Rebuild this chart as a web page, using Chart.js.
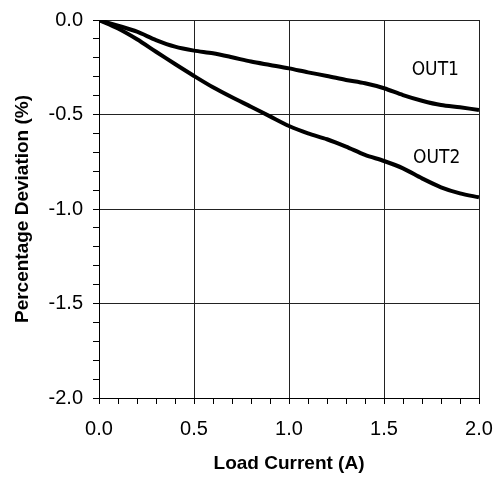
<!DOCTYPE html>
<html>
<head>
<meta charset="utf-8">
<script src="https://cdn.jsdelivr.net/npm/chart.js@4"></script>
<style>
  body { margin: 0; background: #fff; }
</style>
</head>
<body>
<canvas id="chart" width="502" height="477"></canvas>
<script>
// load current (A)
const current = [0, 0.1, 0.2, 0.3, 0.4, 0.5, 0.6, 0.7, 0.8, 0.9, 1.0, 1.1, 1.2, 1.3, 1.4, 1.5, 1.6, 1.7, 1.8, 1.9, 2.0];
// percentage deviation (%)
const out1 = [0, -0.03, -0.062, -0.106, -0.141, -0.162, -0.176, -0.197, -0.22, -0.238, -0.256, -0.277, -0.296, -0.317, -0.335, -0.361, -0.397, -0.427, -0.45, -0.462, -0.476];
const out2 = [0, -0.045, -0.102, -0.168, -0.233, -0.296, -0.356, -0.409, -0.459, -0.51, -0.561, -0.6, -0.631, -0.67, -0.714, -0.746, -0.785, -0.838, -0.885, -0.917, -0.938];
const seriesNames = ['OUT1', 'OUT2'];

const sans = '"Liberation Sans", Arial, sans-serif';

function isMajor(v) {
  return Math.abs(v * 2 - Math.round(v * 2)) < 1e-6;
}

function toPoints(ys) {
  return current.map((x, i) => ({ x: x, y: ys[i] }));
}

// draws OUT1 / OUT2 next to the curves
const curveLabels = {
  id: 'curveLabels',
  afterDatasetsDraw(chart) {
    const ctx = chart.ctx;
    const xs = chart.scales.x;
    const ys = chart.scales.y;
    const spots = [[1.77, -0.265], [1.777, -0.73]];
    ctx.save();
    ctx.font = '19px "DejaVu Sans Condensed", "DejaVu Sans", sans-serif';
    ctx.fillStyle = '#000';
    ctx.textAlign = 'center';
    ctx.textBaseline = 'middle';
    spots.forEach((s, i) => {
      ctx.fillText(seriesNames[i], xs.getPixelForValue(s[0]), ys.getPixelForValue(s[1]));
    });
    ctx.restore();
  }
};

const chart = new Chart(document.getElementById('chart'), {
  type: 'line',
  data: {
    datasets: [{
      label: seriesNames[0],
      data: toPoints(out1),
      borderColor: '#000',
      borderWidth: 4,
      pointRadius: 0,
      tension: 0.3,
      fill: false
    }, {
      label: seriesNames[1],
      data: toPoints(out2),
      borderColor: '#000',
      borderWidth: 4,
      pointRadius: 0,
      tension: 0.3,
      fill: false
    }]
  },
  options: {
    responsive: false,
    animation: false,
    layout: { padding: { top: 20, right: 23, left: 0, bottom: 0 } },
    plugins: {
      legend: { display: false },
      tooltip: { enabled: false }
    },
    scales: {
      x: {
        type: 'linear',
        min: 0,
        max: 2,
        afterFit: (s) => {
          s.height = 79;
          s.paddingLeft = 0;
          s.paddingRight = 0;
        },
        border: { color: '#000', width: 1 },
        grid: {
          color: (c) => (c.tick && isMajor(c.tick.value)) ? '#222' : 'rgba(0,0,0,0)',
          tickColor: '#000',
          tickLength: 6,
          lineWidth: 1
        },
        ticks: {
          stepSize: 0.1,
          autoSkip: false,
          maxRotation: 0,
          padding: 13,
          color: '#000',
          font: { family: sans, size: 20 },
          callback: (v) => isMajor(v) ? Number(v).toFixed(1) : ''
        },
        title: {
          display: true,
          text: 'Load Current (A)',
          color: '#000',
          font: { family: sans, size: 19, weight: 'bold' },
          padding: { top: 0, bottom: 2 }
        }
      },
      y: {
        type: 'linear',
        min: -2,
        max: 0,
        afterFit: (s) => {
          s.width = 99;
          s.paddingTop = 0;
          s.paddingBottom = 0;
        },
        border: { color: '#000', width: 1 },
        grid: {
          color: (c) => (c.tick && isMajor(c.tick.value)) ? '#222' : 'rgba(0,0,0,0)',
          tickColor: '#000',
          tickLength: 6,
          lineWidth: 1
        },
        ticks: {
          stepSize: 0.1,
          autoSkip: false,
          padding: 10,
          color: '#000',
          font: { family: sans, size: 20 },
          callback: (v) => isMajor(v) ? Number(v).toFixed(1) : ''
        },
        title: {
          display: true,
          text: 'Percentage Deviation (%)',
          color: '#000',
          font: { family: sans, size: 19, weight: 'bold' },
          padding: { top: 11, bottom: 0 }
        }
      }
    }
  },
  plugins: [curveLabels]
});
</script>
</body>
</html>
